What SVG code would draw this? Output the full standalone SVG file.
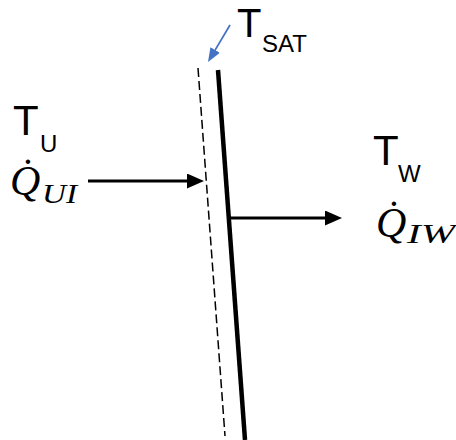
<svg xmlns="http://www.w3.org/2000/svg" width="456" height="440" viewBox="0 0 456 440">
<style>
.t{font-family:"Liberation Sans",Arial,sans-serif;fill:#000}
.big{font-size:42px}
.sub{font-size:24px}
.q{font-family:"Liberation Serif","Times New Roman",serif;font-style:italic;fill:#000}
.qbig{font-size:42px}
.qsub{font-size:27px}
.conn{stroke:#000;fill:none}
</style>
<defs>
<marker id="ah" markerUnits="userSpaceOnUse" markerWidth="18" markerHeight="16" refX="7" refY="7.5" orient="auto">
<path d="M0,0 L17,7.5 L0,15 z" fill="#000"/>
</marker>
<marker id="ahb" markerUnits="userSpaceOnUse" markerWidth="16" markerHeight="12" refX="6" refY="5.5" orient="auto">
<path d="M0,0 L14,5.5 L0,11 z" fill="#4472C4"/>
</marker>
</defs>
<g id="wall">
<line x1="198" y1="68" x2="225" y2="436" stroke="#000" stroke-width="1.5" stroke-dasharray="9,4"/>
<line x1="218" y1="70" x2="245" y2="440" stroke="#000" stroke-width="4.5"/>
</g>
<g id="connectors">
<line class="conn" x1="88" y1="181" x2="194" y2="181" stroke-width="3" marker-end="url(#ah)"/>
<line class="conn" x1="229" y1="218" x2="332" y2="218" stroke-width="3" marker-end="url(#ah)"/>
<line x1="230" y1="25" x2="212.1" y2="55.1" stroke="#4472C4" stroke-width="1.75" marker-end="url(#ahb)"/>
</g>
<g id="tsat">
<text class="t" x="237" y="37" font-size="40">T</text>
<text class="t sub" x="262" y="52">SAT</text>
</g>
<g id="tu">
<text class="t big" x="13" y="135">T</text>
<text class="t sub" x="40" y="152">U</text>
</g>
<g id="qui">
<text class="q qbig" x="10" y="195">Q̇</text>
<text class="q qsub" x="42" y="203" textLength="35" lengthAdjust="spacingAndGlyphs">UI</text>
</g>
<g id="tw">
<text class="t big" x="373" y="165">T</text>
<text class="t sub" x="398" y="182">W</text>
</g>
<g id="qiw">
<text class="q qbig" x="376" y="237">Q̇</text>
<text class="q qsub" x="407" y="243" textLength="48" lengthAdjust="spacingAndGlyphs">IW</text>
</g>
</svg>
